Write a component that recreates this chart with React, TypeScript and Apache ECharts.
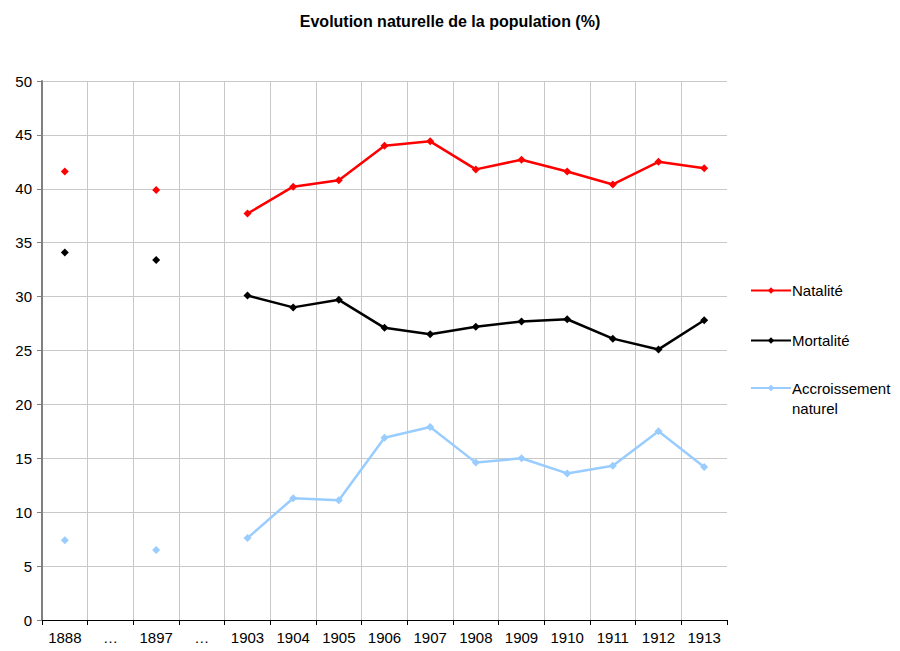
import React, { useEffect, useRef } from "react";
import * as echarts from "echarts";

const categories = ["1888", "…", "1897", "…", "1903", "1904", "1905", "1906", "1907", "1908", "1909", "1910", "1911", "1912", "1913"];
const natalite = [41.6, null, 39.9, null, 37.7, 40.2, 40.8, 44.0, 44.4, 41.8, 42.7, 41.6, 40.4, 42.5, 41.9];
const mortalite = [34.1, null, 33.4, null, 30.1, 29.0, 29.7, 27.1, 26.5, 27.2, 27.7, 27.9, 26.1, 25.1, 27.8];
const accroissement = [7.4, null, 6.5, null, 7.6, 11.3, 11.1, 16.9, 17.9, 14.6, 15.0, 13.6, 14.3, 17.5, 14.2];
const yTicks = { min: 0, max: 50, interval: 5 };

const FONT = "Liberation Sans, Arial, sans-serif";

export default function App() {
  const ref = useRef<HTMLDivElement>(null);
  useEffect(() => {
    if (!ref.current) return;
    const chart = echarts.init(ref.current, undefined, { renderer: "svg" });
    const mk = (name: string, data: (number | null)[], color: string) => ({
      name,
      type: "line",
      data,
      connectNulls: false,
      symbol: "diamond",
      symbolSize: 8,
      lineStyle: { color, width: 2.5 },
      itemStyle: { color },
      emphasis: { disabled: true },
    });
    chart.setOption({
      animation: false,
      backgroundColor: "#ffffff",
      textStyle: { fontFamily: FONT },
      title: {
        text: "Evolution naturelle de la population (%)",
        left: "center",
        top: 13,
        padding: 0,
        textStyle: { fontFamily: FONT, fontSize: 16, fontWeight: "bold", color: "#000" },
      },
      legend: [
        {
          data: ["Natalité", "Mortalité"],
          orient: "vertical",
          left: 750,
          top: 282,
          padding: 0,
          itemWidth: 40,
          itemHeight: 8,
          itemGap: 33,
          textStyle: { fontFamily: FONT, fontSize: 15, color: "#000", lineHeight: 17, padding: [0, 0, 0, -4] },
        },
        {
          data: ["Accroissement naturel"],
          orient: "vertical",
          left: 750,
          top: 358,
          padding: 0,
          itemWidth: 40,
          itemHeight: 8,
          formatter: () => "\nAccroissement\nnaturel",
          textStyle: { fontFamily: FONT, fontSize: 15, color: "#000", lineHeight: 20, padding: [0, 0, 0, -4] },
        },
      ],
      grid: { left: 42, right: 173, top: 81, bottom: 31, containLabel: false },
      xAxis: {
        type: "category",
        data: categories,
        boundaryGap: true,
        axisLine: { lineStyle: { color: "#000", width: 1 } },
        axisTick: { show: true, length: 5, lineStyle: { color: "#000" } },
        axisLabel: { fontFamily: FONT, fontSize: 15, color: "#000", margin: 10, interval: 0 },
        splitLine: { show: true, showMaxLine: false, lineStyle: { color: "#c8c8c8", width: 1 } },
      },
      yAxis: {
        type: "value",
        min: yTicks.min,
        max: yTicks.max,
        interval: yTicks.interval,
        axisLine: { show: true, lineStyle: { color: "#808080", width: 2 } },
        axisTick: { show: true, length: 5, lineStyle: { color: "#808080" } },
        axisLabel: { fontFamily: FONT, fontSize: 15, color: "#000", margin: 10 },
        splitLine: { show: true, lineStyle: { color: "#c8c8c8", width: 1 } },
      },
      series: [
        mk("Natalité", natalite, "#ff0000"),
        mk("Mortalité", mortalite, "#000000"),
        mk("Accroissement naturel", accroissement, "#99ccff"),
      ],
    });
    return () => chart.dispose();
  }, []);
  return <div ref={ref} style={{ width: 900, height: 651, position: "absolute", left: 0, top: 0 }} />;
}
